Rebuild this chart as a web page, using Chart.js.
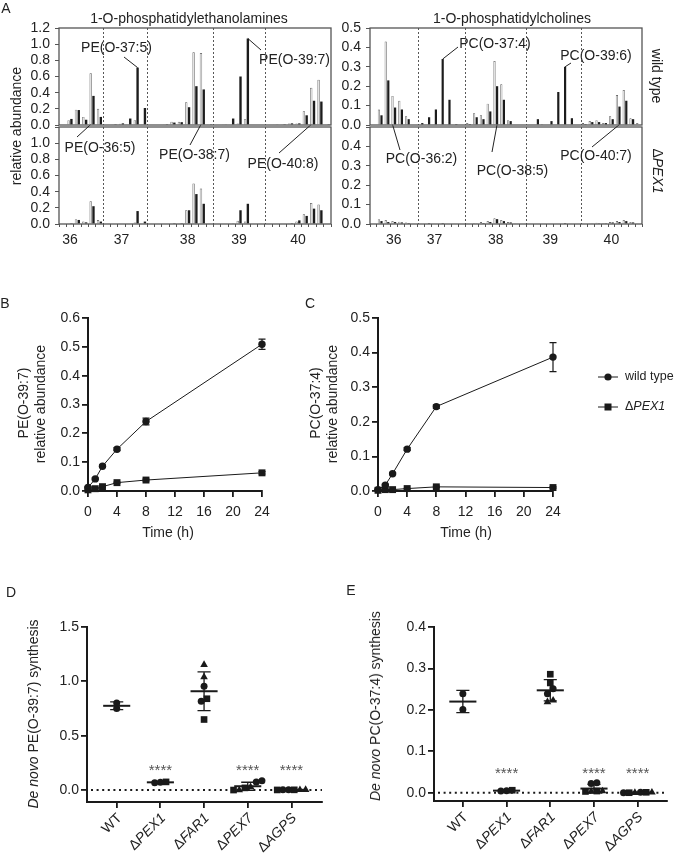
<!DOCTYPE html>
<html><head><meta charset="utf-8">
<script src="https://cdn.jsdelivr.net/npm/chart.js@4.4.0/dist/chart.umd.min.js"></script>
<style>
html,body{margin:0;padding:0;background:#fff;}
#wrap{position:relative;width:678px;height:857px;overflow:hidden;font-family:'Liberation Sans',Arial,Helvetica,sans-serif;color:#222;}
canvas.full{position:absolute;left:0;top:0;}
.t{position:absolute;white-space:nowrap;font-size:14px;line-height:1;z-index:5;}
.c{transform:translate(-50%,-50%);}
.r{transform:translate(-50%,-50%) rotate(-90deg);}
.rc{transform:translate(-50%,-50%) rotate(90deg);}
</style></head><body><div id="wrap">
<div class="t c" style="left:6px;top:8px">A</div>
<div class="t c" style="left:189px;top:18px">1-O-phosphatidylethanolamines</div>
<div class="t c" style="left:512px;top:18px">1-O-phosphatidylcholines</div>
<div class="t r" style="left:16px;top:126px">relative abundance</div>
<div class="t rc" style="left:657px;top:76px">wild type</div>
<div class="t rc" style="left:658px;top:171px">Δ<i>PEX1</i></div>
<div class="t c" style="left:5px;top:303px">B</div>
<div class="t c" style="left:310px;top:303px">C</div>
<div class="t r" style="left:23px;top:403px">PE(O-39:7)</div>
<div class="t r" style="left:40px;top:404px">relative abundance</div>
<div class="t r" style="left:315px;top:403px">PC(O-37:4)</div>
<div class="t r" style="left:332px;top:404px">relative abundance</div>
<div class="t c" style="left:168px;top:532px">Time (h)</div>
<div class="t c" style="left:466px;top:532px">Time (h)</div>
<div class="t c" style="left:11px;top:592px">D</div>
<div class="t c" style="left:351px;top:590px">E</div>
<div class="t r" style="left:33px;top:714px"><i>De novo</i> PE(O-39:7) synthesis</div>
<div class="t r" style="left:375px;top:706px"><i>De novo</i> PC(O-37:4) synthesis</div>
</div>
<script>
// ---------------- DATA ----------------
// Panel A: species slots grouped by carbon number
const peGroupLabels = ['36','37','38','39','40'];
const peGroupSizes  = [6,6,9,7,9];
const peLabelSlot   = [1,2,5,3,4];
const peWtLight = [0,0.06,0.19,0.10,0.64,0.20, 0,0.01,0.015,0.01,0.06,0.01, 0,0.005,0.01,0.04,0.04,0.28,0.90,0.89,0.01, 0,0.01,0.005,0.02,0.07,0.005,0, 0,0.01,0.01,0.02,0.02,0.17,0.46,0.56,0.01];
const peWtDark  = [0,0.075,0.185,0.065,0.36,0.10, 0,0.01,0.02,0.08,0.71,0.21, 0,0,0.01,0.03,0.035,0.22,0.48,0.44,0.01, 0,0.005,0.08,0.60,1.07,0,0, 0,0.005,0.01,0.02,0.02,0.12,0.30,0.29,0.01];
const pePexLight = [0,0.01,0.06,0.03,0.28,0.05, 0,0,0,0.005,0.02,0, 0,0,0.005,0.01,0.01,0.17,0.50,0.44,0, 0,0,0.01,0.04,0.03,0,0, 0,0,0,0.01,0.03,0.12,0.26,0.24,0.005];
const pePexDark  = [0,0.01,0.05,0.02,0.22,0.03, 0,0,0,0,0.16,0.03, 0,0,0,0.01,0.01,0.17,0.37,0.25,0, 0,0,0.005,0.17,0.25,0,0, 0,0,0,0.01,0.045,0.10,0.19,0.17,0];

const pcGroupLabels = ['36','37','38','39','40'];
const pcGroupSizes  = [7,7,9,8,9];
const pcLabelSlot   = [3,2,4,3,4];
const pcWtLight = [0,0.08,0.43,0.15,0.125,0.045,0, 0,0,0,0,0,0,0, 0.01,0.06,0.05,0.11,0.33,0.21,0.025,0,0, 0,0,0.005,0,0,0,0,0, 0.01,0.02,0.025,0.01,0.045,0.155,0.18,0.035,0.01];
const pcWtDark  = [0,0.05,0.23,0.09,0.08,0.03,0, 0.01,0.04,0.08,0.34,0.13,0.005,0, 0.005,0.04,0.03,0.07,0.20,0.13,0.02,0,0, 0,0.03,0,0.02,0.17,0.30,0.035,0, 0.005,0.015,0.015,0.01,0.03,0.095,0.125,0.03,0];
const pcPexLight = [0,0.025,0.02,0.015,0.012,0.008,0, 0,0.003,0,0.004,0,0,0, 0.004,0.005,0.01,0.015,0.03,0.02,0.01,0.004,0, 0,0.003,0,0.003,0,0.004,0,0, 0.003,0.004,0.006,0.005,0.01,0.015,0.02,0.01,0.004];
const pcPexDark  = [0,0.015,0.01,0.01,0.008,0.005,0, 0,0.005,0,0.005,0,0,0, 0,0.003,0.005,0.01,0.025,0.015,0.008,0,0, 0,0,0,0,0,0.005,0,0, 0,0.003,0.004,0.004,0.008,0.01,0.015,0.008,0];

// Panels B, C: time course
const times = [0,1,2,4,8,24];
const peTimeWt    = [0.012,0.042,0.086,0.145,0.241,0.509];
const peTimeWtSd  = [0.002,0.003,0.004,0.005,0.012,0.018];
const peTimePex   = [0.004,0.008,0.015,0.029,0.038,0.063];
const peTimePexSd = [0.001,0.001,0.002,0.002,0.003,0.004];
const pcTimeWt    = [0.004,0.017,0.050,0.121,0.244,0.387];
const pcTimeWtSd  = [0.001,0.002,0.003,0.004,0.005,0.042];
const pcTimePex   = [0.002,0.004,0.004,0.007,0.012,0.010];
const pcTimePexSd = [0.001,0.001,0.001,0.001,0.002,0.002];
const timeTicks = [0,4,8,12,16,20,24];

// Panels D, E: de novo synthesis per cell line
const cellLines = ['WT','ΔPEX1','ΔFAR1','ΔPEX7','ΔAGPS'];
const peSynWT   = [0.80,0.75];
const peSynPEX1 = [0.072,0.066,0.075];
const peSynFAR1 = [0.955,0.817,0.84,0.649,1.153,1.04];
const peSynPEX7 = [0.075,0.085,0.0,0.02,0.0,0.03];
const peSynAGPS = [0.002,0.002,0.001,0.002,0.003,0.002];
const pcSynWT   = [0.239,0.201];
const pcSynPEX1 = [0.005,0.004,0.006];
const pcSynFAR1 = [0.251,0.239,0.286,0.265,0.219,0.223];
const pcSynPEX7 = [0.022,0.024,0.003,0.004,0.003,0.004];
const pcSynAGPS = [0.001,0.0,0.001,0.0,0.001,0.0];
const signifLines = [1,3,4];   // categories marked ****
const peSynTicks = [0,0.5,1.0,1.5];
const pcSynTicks = [0,0.1,0.2,0.3,0.4];

// ---------------- SETUP ----------------
const FONT = "'Liberation Sans', Arial, Helvetica, sans-serif";
Chart.defaults.font.family = FONT;
Chart.defaults.font.size = 14;
Chart.defaults.color = '#222';
Chart.defaults.animation = false;
Chart.defaults.responsive = false;
Chart.defaults.devicePixelRatio = 1;
Chart.defaults.plugins.legend.display = false;
Chart.defaults.plugins.tooltip.enabled = false;

const wrap = document.getElementById('wrap');
function mk(){ const c=document.createElement('canvas'); c.width=678; c.height=857; c.className='full'; wrap.insertBefore(c, wrap.firstChild); return c; }
function pad(a, yW, xH){ return {left:a.l-yW, top:a.t, right:678-a.r, bottom:857-a.b-xH}; }

const boxPlugin = {id:'box', afterDraw(c){ const a=c.chartArea, x=c.ctx; x.save(); x.strokeStyle='#555'; x.lineWidth=1.3; x.strokeRect(a.left,a.top,a.right-a.left,a.bottom-a.top); x.restore(); }};
function dividerPlugin(sizes){ return {id:'div', beforeDatasetsDraw(c){ const xs=c.scales.x, a=c.chartArea, ctx=c.ctx; let i=0; ctx.save(); ctx.strokeStyle='#444'; ctx.lineWidth=0.9; ctx.setLineDash([2,2]);
  for(let g=0; g<sizes.length-1; g++){ i+=sizes[g]; const px=Math.round((xs.getPixelForValue(i-1)+xs.getPixelForValue(i))/2)+0.5; ctx.beginPath(); ctx.moveTo(px,a.top); ctx.lineTo(px,a.bottom); ctx.stroke(); }
  ctx.restore(); }}; }
function annPlugin(topChart, items){ return {id:'ann', afterDraw(c){ const ctx=c.ctx; ctx.save(); ctx.font='14px '+FONT; ctx.fillStyle='#222'; ctx.textAlign='center'; ctx.textBaseline='middle'; ctx.strokeStyle='#222'; ctx.lineWidth=1;
  for(const it of items){ const el=topChart.getDatasetMeta(it.ds).data[it.slot]; const ax=el.x, ay=it.base?el.base:el.y; ctx.beginPath(); ctx.moveTo(it.lx,it.ly); ctx.lineTo(ax,ay); ctx.stroke(); ctx.fillText(it.t,it.cx,it.cy); }
  ctx.restore(); }}; }

function slotLabels(sizes, names, at){ const out=[]; sizes.forEach((n,g)=>{ for(let k=0;k<n;k++) out.push(k===at[g]?names[g]:''); }); return out; }

function barPanel(light, dark, labels, sizes, ymax, step, area, showX, hideTop, extra){
  const c = mk();
  const xH = showX?25:0;
  return new Chart(c, {type:'bar',
    data:{labels, datasets:[
      {data:light, backgroundColor:'#e2e2e2', borderColor:'#555', borderWidth:0.7},
      {data:dark, backgroundColor:'#1c1c1c', borderWidth:0}]},
    options:{ layout:{padding:pad(area,45,xH)},
      datasets:{bar:{categoryPercentage:0.76, barPercentage:0.85}},
      scales:{
        x:{display:showX, offset:true, grid:{drawOnChartArea:false, drawTicks:true, tickLength:3, color:'#555', offset:true}, border:{display:false},
           ticks:{autoSkip:false, maxRotation:0, minRotation:0, padding:5, color:'#222', font:{size:14}}, afterFit:s=>{s.height=xH;}},
        y:{min:0, max:ymax, ticks:{stepSize:step, autoSkip:false, padding:5, color:'#222', font:{size:14}, callback:v=>(hideTop && v>ymax-1e-6)?'':v.toFixed(1)},
           grid:{drawOnChartArea:false, tickLength:4, color:'#555'}, border:{display:false}, afterFit:s=>{s.width=45;}}
      }},
    plugins:[dividerPlugin(sizes), boxPlugin].concat(extra||[])
  });
}

// Panel A charts
const peLabels = slotLabels(peGroupSizes, peGroupLabels, peLabelSlot);
const pcLabels = slotLabels(pcGroupSizes, pcGroupLabels, pcLabelSlot);
const peTop = barPanel(peWtLight, peWtDark, peLabels, peGroupSizes, 1.2, 0.2, {l:59,r:331,t:28,b:125}, false, false);
barPanel(pePexLight, pePexDark, peLabels, peGroupSizes, 1.2, 0.2, {l:59,r:331,t:127,b:224}, true, true, [annPlugin(peTop, [
  {t:'PE(O-37:5)', cx:116.5, cy:48, lx:124, ly:57, slot:10, ds:1},
  {t:'PE(O-39:7)', cx:294.5, cy:60, lx:261, ly:50, slot:25, ds:1},
  {t:'PE(O-36:5)', cx:100, cy:148, lx:77, ly:137, slot:4, ds:0, base:true},
  {t:'PE(O-38:7)', cx:194.5, cy:155, lx:190, ly:145, slot:19, ds:0, base:true},
  {t:'PE(O-40:8)', cx:283, cy:164, lx:279, ly:153, slot:34, ds:0, base:true}
])]);
const pcTop = barPanel(pcWtLight, pcWtDark, pcLabels, pcGroupSizes, 0.5, 0.1, {l:370,r:642,t:28,b:125}, false, false);
barPanel(pcPexLight, pcPexDark, pcLabels, pcGroupSizes, 0.5, 0.1, {l:370,r:642,t:127,b:224}, true, true, [annPlugin(pcTop, [
  {t:'PC(O-37:4)', cx:495, cy:44.5, lx:458, ly:47, slot:10, ds:1},
  {t:'PC(O-39:6)', cx:596, cy:56, lx:571, ly:63, slot:28, ds:1},
  {t:'PC(O-36:2)', cx:421.5, cy:159.5, lx:400, ly:150, slot:3, ds:0, base:true},
  {t:'PC(O-38:5)', cx:512.5, cy:171.5, lx:492, ly:152, slot:18, ds:1, base:true},
  {t:'PC(O-40:7)', cx:596, cy:156, lx:592, ly:147, slot:36, ds:1, base:true}
])]);

// ---------- Panels B, C ----------
const AX = '#1a1a1a';
function errPlugin(sds){ return {id:'err', afterDatasetsDraw(c){ const ctx=c.ctx, ys=c.scales.y; ctx.save(); ctx.strokeStyle=AX; ctx.lineWidth=1.2;
  c.data.datasets.forEach((ds,di)=>{ const meta=c.getDatasetMeta(di); meta.data.forEach((p,i)=>{ const v=ds.data[i].y, e=sds[di][i]; if(!e) return; const y1=ys.getPixelForValue(v+e), y2=ys.getPixelForValue(v-e);
    ctx.beginPath(); ctx.moveTo(p.x,y1); ctx.lineTo(p.x,y2); ctx.moveTo(p.x-3.5,y1); ctx.lineTo(p.x+3.5,y1); ctx.moveTo(p.x-3.5,y2); ctx.lineTo(p.x+3.5,y2); ctx.stroke(); }); });
  ctx.restore(); }}; }
function italicLabel(ctx, txt, x, y, align, size){ // Δ upright, rest italic
  size = size || 14;
  const parts = txt.startsWith('Δ') ? [['Δ',''],[txt.slice(1),'italic ']] : [[txt,'']];
  const ws = parts.map(p=>{ ctx.font=p[1]+size+'px '+FONT; return ctx.measureText(p[0]).width; });
  let sx = align==='right' ? x - ws.reduce((a,b)=>a+b,0) : x;
  ctx.textAlign='left';
  parts.forEach((p,i)=>{ ctx.font=p[1]+size+'px '+FONT; ctx.fillText(p[0], sx, y); sx+=ws[i]; });
}
const legendPlugin = {id:'leg', afterDraw(c){ const ctx=c.ctx; ctx.save(); ctx.strokeStyle=AX; ctx.fillStyle=AX; ctx.lineWidth=1; ctx.textBaseline='middle';
  const rows=[{y:377, name:c.data.datasets[0].label, s:'circle'},{y:407, name:c.data.datasets[1].label, s:'rect'}];
  rows.forEach(r=>{ ctx.beginPath(); ctx.moveTo(598,r.y); ctx.lineTo(618,r.y); ctx.stroke();
    if(r.s==='circle'){ ctx.beginPath(); ctx.arc(608,r.y,3.6,0,Math.PI*2); ctx.fill(); } else { ctx.fillRect(604.5,r.y-3.5,7,7); }
    ctx.fillStyle='#222'; italicLabel(ctx, r.name, 625, r.y, 'left', 12.5); ctx.fillStyle=AX; });
  ctx.restore(); }};

function timePanel(wt, wtSd, pex, pexSd, ymax, area, withLegend){
  const c = mk();
  const axis = (o)=>Object.assign({grid:{drawOnChartArea:false, tickLength:6, color:AX, lineWidth:1.8}, border:{color:AX, width:2}}, o);
  return new Chart(c, {type:'line',
    data:{datasets:[
      {label:'wild type', data:times.map((t,i)=>({x:t,y:wt[i]})), borderColor:AX, borderWidth:1, pointStyle:'circle', pointRadius:3.7, pointBackgroundColor:AX, pointBorderWidth:0, clip:false},
      {label:'ΔPEX1', data:times.map((t,i)=>({x:t,y:pex[i]})), borderColor:AX, borderWidth:1, pointStyle:'rect', pointRadius:4.9, pointBackgroundColor:AX, pointBorderWidth:0, clip:false}]},
    options:{ layout:{padding:pad(area,45,30)},
      scales:{
        x: axis({type:'linear', min:0, max:24, afterBuildTicks:s=>{s.ticks=timeTicks.map(v=>({value:v}));}, ticks:{padding:7, color:'#222', font:{size:14}}, afterFit:s=>{s.height=30;}}),
        y: axis({min:0, max:ymax, ticks:{stepSize:0.1, autoSkip:false, padding:2, color:'#222', font:{size:14}, callback:v=>v.toFixed(1)}, afterFit:s=>{s.width=45;}})
      }},
    plugins:[errPlugin([wtSd,pexSd])].concat(withLegend?[legendPlugin]:[])
  });
}
timePanel(peTimeWt, peTimeWtSd, peTimePex, peTimePexSd, 0.6, {l:88,r:262,t:318,b:491}, false);
timePanel(pcTimeWt, pcTimeWtSd, pcTimePex, pcTimePexSd, 0.5, {l:378,r:553,t:318,b:491}, true);

// ---------- Panels D, E ----------
const shapeCycle = ['circle','circle','rect','rect','triangle','triangle'];
const shapeRad = {circle:3.5, rect:4.7, triangle:4.4};
const mean = a=>a.reduce((s,v)=>s+v,0)/a.length;
const sdev = a=>{ const m=mean(a); return Math.sqrt(a.reduce((s,v)=>s+(v-m)*(v-m),0)/(a.length-1)); };
function jitter(vals, thr, sp){ const idx=vals.map((v,i)=>i).sort((a,b)=>vals[a]-vals[b]); const off=new Array(vals.length).fill(0); let cl=[idx[0]];
  const flush=()=>cl.forEach((k,j)=>{ off[k]=(j-(cl.length-1)/2)*sp; });
  for(let q=1;q<idx.length;q++){ if(vals[idx[q]]-vals[idx[q-1]]<thr) cl.push(idx[q]); else { flush(); cl=[idx[q]]; } } flush(); return off; }

function dotPanel(groups, ymin, ymax, yTicks, area, xmin, xmax){
  const c = mk();
  const pts=[]; groups.forEach((vals,gi)=>{ const off=jitter(vals,(ymax-ymin)*0.03,0.13); vals.forEach((v,j)=>pts.push({x:gi+off[j], y:v, s:gi===0?'circle':shapeCycle[j%6]})); });
  const plug = {id:'ms',
    beforeDatasetsDraw(ch){ const ctx=ch.ctx, a=ch.chartArea, y0=ch.scales.y.getPixelForValue(0); ctx.save(); ctx.strokeStyle=AX; ctx.lineWidth=2; ctx.setLineDash([2,3.6]); ctx.beginPath(); ctx.moveTo(a.left+4,y0); ctx.lineTo(a.right,y0); ctx.stroke(); ctx.restore(); },
    afterDatasetsDraw(ch){ const ctx=ch.ctx, xs=ch.scales.x, ys=ch.scales.y, a=ch.chartArea; ctx.save(); ctx.strokeStyle=AX;
      groups.forEach((v,i)=>{ const m=mean(v), s=sdev(v), x=xs.getPixelForValue(i), hw=xs.getPixelForValue(i+0.31)-x, cw=xs.getPixelForValue(i+0.15)-x;
        const ym=ys.getPixelForValue(m), y1=ys.getPixelForValue(m+s), y2=ys.getPixelForValue(Math.max(m-s, ymin));
        ctx.lineWidth=2; ctx.beginPath(); ctx.moveTo(x-hw,ym); ctx.lineTo(x+hw,ym); ctx.stroke();
        ctx.lineWidth=1.3; ctx.beginPath(); ctx.moveTo(x,y1); ctx.lineTo(x,y2); ctx.moveTo(x-cw,y1); ctx.lineTo(x+cw,y1); ctx.moveTo(x-cw,y2); ctx.lineTo(x+cw,y2); ctx.stroke(); });
      const y0=ys.getPixelForValue(0);
      ctx.fillStyle='#555'; ctx.font='15px '+FONT; ctx.textAlign='center'; ctx.textBaseline='middle';
      signifLines.forEach(i=>ctx.fillText('****', xs.getPixelForValue(i), y0-19));
      ctx.fillStyle='#222'; ctx.textBaseline='middle';
      cellLines.forEach((nm,i)=>{ const x=xs.getPixelForValue(i); ctx.save(); ctx.translate(x+3, a.bottom+14); ctx.rotate(-Math.PI/4); italicLabel(ctx, nm, 0, 0, 'right'); ctx.restore(); });
      ctx.restore(); }};
  const axis = (o)=>Object.assign({grid:{drawOnChartArea:false, tickLength:6, color:AX, lineWidth:1.8}, border:{color:AX, width:2}}, o);
  return new Chart(c, {type:'scatter',
    data:{datasets:[{data:pts, pointStyle:ctx=>ctx.raw?ctx.raw.s:'circle', pointRadius:ctx=>ctx.raw?shapeRad[ctx.raw.s]:3.5, pointBackgroundColor:AX, pointBorderWidth:0, clip:false}]},
    options:{ layout:{padding:pad(area,45,50)},
      scales:{
        x: axis({type:'linear', min:xmin, max:xmax, afterBuildTicks:s=>{s.ticks=cellLines.map((n,i)=>({value:i}));}, ticks:{display:false}, afterFit:s=>{s.height=50;}}),
        y: axis({min:ymin, max:ymax, afterBuildTicks:s=>{s.ticks=yTicks.map(v=>({value:v}));}, ticks:{padding:2, color:'#222', font:{size:14}, callback:v=>v.toFixed(1)}, afterFit:s=>{s.width=45;}})
      }},
    plugins:[plug]
  });
}
dotPanel([peSynWT,peSynPEX1,peSynFAR1,peSynPEX7,peSynAGPS], -0.11, 1.5, peSynTicks, {l:87,r:322,t:627,b:802}, -0.68, 4.70);
dotPanel([pcSynWT,pcSynPEX1,pcSynFAR1,pcSynPEX7,pcSynAGPS], -0.02, 0.4, pcSynTicks, {l:434,r:667,t:627,b:801}, -0.66, 4.67);
</script>
</body></html>
